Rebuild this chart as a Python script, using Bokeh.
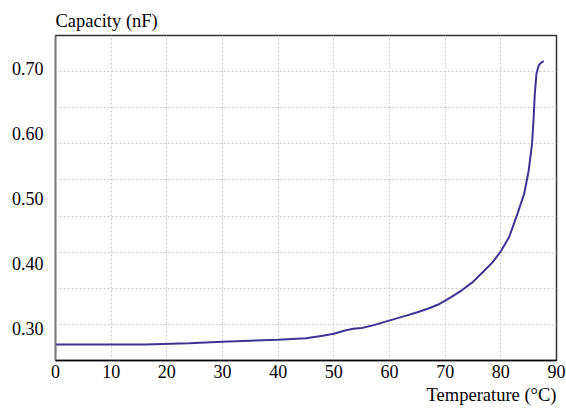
from bokeh.plotting import figure
from bokeh.models import FixedTicker, Title
from bokeh.embed import file_html
from bokeh.resources import INLINE

# Data
temperature = [0, 8, 16, 24, 30, 40, 45, 48, 50, 52, 53.5, 55, 57, 59, 61, 63, 65, 67, 69, 71, 73, 75,
               77, 78.5, 80, 81.5, 83, 84.2, 85, 85.6, 85.9, 86.1, 86.4, 86.8, 87.2, 87.7]
capacity = [0.2746, 0.2746, 0.2746, 0.2766, 0.279, 0.2818, 0.2843, 0.288, 0.2911, 0.2962, 0.2988, 0.3,
            0.304, 0.309, 0.314, 0.319, 0.3243, 0.330, 0.337, 0.347, 0.358, 0.371,
            0.388, 0.401, 0.418, 0.440, 0.476, 0.507, 0.542, 0.583, 0.624, 0.660, 0.691, 0.704, 0.708, 0.7105]
x_ticks = [0, 10, 20, 30, 40, 50, 60, 70, 80, 90]
y_ticks = [0.30, 0.40, 0.50, 0.60, 0.70]
y_tick_labels = {0.30: "0.30", 0.40: "0.40", 0.50: "0.50", 0.60: "0.60", 0.70: "0.70"}
x_title = "Temperature (°C)"
y_title = "Capacity (nF)"

x_min, x_max = 0, 90
y_min, y_max = 0.25, 0.75
n_div = 9

FONT = "Liberation Serif"

p = figure(width=566, height=408, x_range=(x_min, x_max), y_range=(y_min, y_max),
           output_backend="svg", toolbar_location=None,
           min_border_left=55, min_border_right=10, min_border_top=35, min_border_bottom=48)
p.background_fill_color = "white"
p.border_fill_color = "white"
p.outline_line_color = "#333333"
p.outline_line_width = 1.5

p.xaxis.ticker = FixedTicker(ticks=x_ticks)
p.yaxis.ticker = FixedTicker(ticks=y_ticks)
p.yaxis.major_label_overrides = y_tick_labels
p.xgrid.ticker = FixedTicker(ticks=x_ticks)
p.ygrid.ticker = FixedTicker(ticks=[y_min + k * (y_max - y_min) / n_div for k in range(1, n_div)])

for ax in (p.xaxis, p.yaxis):
    ax.major_tick_line_color = None
    ax.minor_tick_line_color = None
    ax.major_tick_out = 0
    ax.major_tick_in = 0
    ax.minor_tick_out = 0
    ax.minor_tick_in = 0
    ax.major_label_text_font = FONT
    ax.major_label_text_font_size = "18px"
    ax.major_label_text_color = "black"
p.xaxis.axis_line_color = "black"
p.xaxis.axis_line_width = 1.5
p.yaxis.axis_line_color = "#777777"
p.yaxis.axis_line_width = 1.5
p.xaxis.major_label_standoff = 4
p.yaxis.major_label_standoff = 12

for g in (p.xgrid, p.ygrid):
    g.grid_line_color = "#c8c8c8"
    g.grid_line_dash = "2 2"
    g.grid_line_width = 1

p.line(temperature, capacity, line_color="#3d3394", line_width=2)

p.title = Title(text=y_title, align="left", vertical_align="top", text_font=FONT,
                text_font_size="18.5px", text_font_style="normal", text_color="black", standoff=5)
p.add_layout(Title(text=x_title, align="right", vertical_align="bottom", text_font=FONT,
                   text_font_size="18.5px", text_font_style="normal", text_color="black", standoff=4),
             "below")

open("out.html", "w").write(file_html(p, INLINE))
